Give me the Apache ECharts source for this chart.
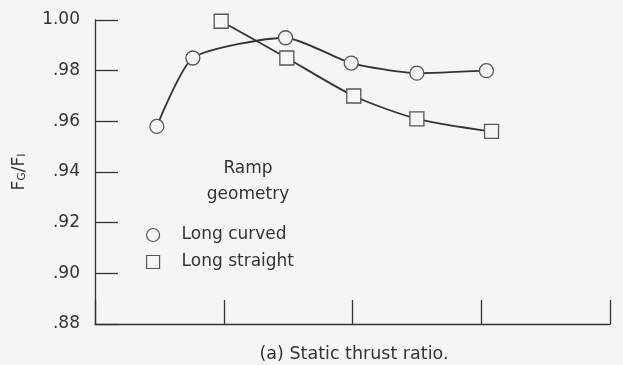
<!DOCTYPE html>
<html>
<head>
<meta charset="utf-8">
<script src="https://cdn.jsdelivr.net/npm/echarts@6/dist/echarts.min.js"></script>
<style>
html,body{margin:0;padding:0;background:#f5f5f5;}
#chart{width:623px;height:365px;}
</style>
</head>
<body>
<div id="chart"></div>
<script>
// Data
const curvedX = [0.48, 0.76, 1.48, 1.99, 2.50, 3.04];
const curvedY = [0.958, 0.985, 0.993, 0.983, 0.979, 0.980];
const straightX = [0.98, 1.49, 2.01, 2.50, 3.08];
const straightY = [0.9995, 0.985, 0.970, 0.961, 0.956];
const yTickLabels = ['.88', '.90', '.92', '.94', '.96', '.98', '1.00'];
const seriesNames = ['Long curved', 'Long straight'];

const FONT = 'DejaVu Sans';
const INK = '#333333';
const BG = '#f5f5f5';

function pairs(xs, ys) { return xs.map((x, i) => [x, ys[i]]); }

const chart = echarts.init(document.getElementById('chart'));
chart.setOption({
  backgroundColor: BG,
  animation: false,
  textStyle: { fontFamily: FONT, color: INK },
  grid: { left: 95, right: 13, top: 20, bottom: 41, containLabel: false, outerBoundsMode: 'none' },
  title: [
    { text: 'Ramp\ngeometry', left: 243, top: 151, textAlign: 'center',
      textStyle: { fontFamily: FONT, fontSize: 17, fontWeight: 'normal', color: INK, lineHeight: 26 } },
    { text: '(a) Static thrust ratio.', left: 349, top: 340, textAlign: 'center',
      textStyle: { fontFamily: FONT, fontSize: 17.5, fontWeight: 'normal', color: INK } }
  ],
  legend: {
    orient: 'vertical', left: 141, top: 220, itemWidth: 13, itemHeight: 13, itemGap: 7,
    textStyle: { fontFamily: FONT, fontSize: 17, color: INK, lineHeight: 20, padding: [0, 0, 0, 17] },
    data: [ { name: seriesNames[0], icon: 'circle' }, { name: seriesNames[1], icon: 'rect' } ],
    itemStyle: { color: BG, borderColor: '#555', borderWidth: 1.2 }
  },
  xAxis: {
    type: 'value', min: 0, max: 4, interval: 1,
    axisLine: { lineStyle: { color: INK, width: 1.3 } },
    axisTick: { inside: true, length: 24, lineStyle: { color: INK, width: 1.3 } },
    axisLabel: { show: false },
    splitLine: { show: false }
  },
  yAxis: {
    type: 'value', min: 0.88, max: 1.00, interval: 0.02,
    name: '{m|F}{s|G}{m|/F}{s|I}', nameLocation: 'middle', nameGap: 67, nameRotate: 90,
    nameTextStyle: {
      rich: {
        m: { fontFamily: FONT, fontSize: 17, color: INK },
        s: { fontFamily: FONT, fontSize: 11, color: INK, verticalAlign: 'bottom', padding: [6, 0, 0, 0] }
      }
    },
    axisLine: { show: true, lineStyle: { color: INK, width: 1.3 } },
    axisTick: { inside: true, length: 23, lineStyle: { color: INK, width: 1.3 } },
    axisLabel: {
      margin: 15, fontFamily: FONT, fontSize: 17, color: INK,
      formatter: (v) => yTickLabels[Math.round((v - 0.88) / 0.02)]
    },
    splitLine: { show: false }
  },
  series: [
    {
      name: seriesNames[0], type: 'line', smooth: 0.2,
      data: pairs(curvedX, curvedY),
      symbol: 'circle', symbolSize: 14,
      lineStyle: { color: INK, width: 1.8 },
      itemStyle: { color: BG, borderColor: '#555', borderWidth: 1.3 },
      z: 3
    },
    {
      name: seriesNames[1], type: 'line', smooth: 0.25,
      data: pairs(straightX, straightY),
      symbol: 'rect', symbolSize: 14,
      lineStyle: { color: INK, width: 1.8 },
      itemStyle: { color: BG, borderColor: '#555', borderWidth: 1.3 },
      z: 3
    }
  ]
});
</script>
</body>
</html>
